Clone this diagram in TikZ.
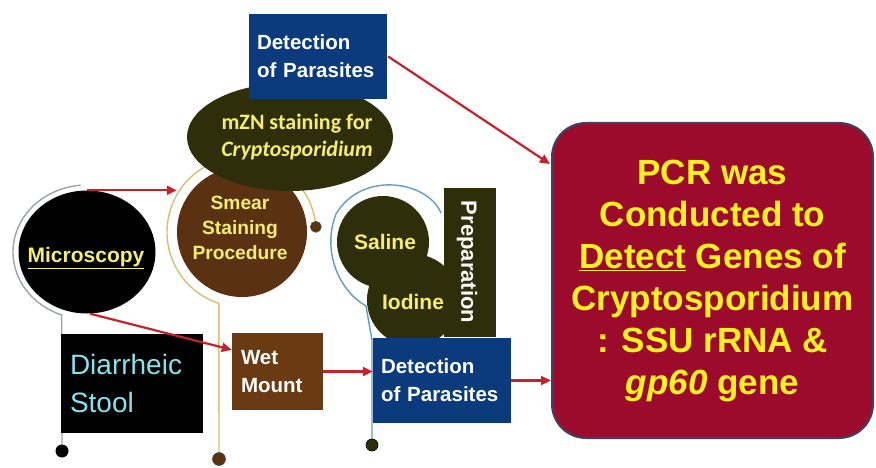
\documentclass[tikz,border=0pt]{standalone}
\usepackage{fontspec}
\setmainfont{Liberation Sans}
\newfontfamily\carlito{Carlito}
\usetikzlibrary{shapes.geometric,arrows.meta,calc}
\definecolor{detblue}{HTML}{0B3B7C}
\definecolor{olivefill}{HTML}{2F2E0B}
\definecolor{smearbrown}{HTML}{5B3211}
\definecolor{wetbrown}{HTML}{6A3A13}
\definecolor{pcrred}{HTML}{9C0B2C}
\definecolor{pcrborder}{HTML}{3B4363}
\definecolor{txtyellow}{HTML}{FFF21E}
\definecolor{lblyellow}{HTML}{F6EE6E}
\definecolor{stoolcyan}{HTML}{86E3EE}
\definecolor{arrowred}{HTML}{C4232B}
\definecolor{lineyellow}{HTML}{D9BE72}
\definecolor{lineblue}{HTML}{5E9CC4}
\definecolor{linegray}{HTML}{9DA3A8}
\begin{document}
\begin{tikzpicture}[x=1pt,y=-1pt,
  boxnode/.style={rectangle, inner sep=0pt, align=left},
  dettext/.style={text=white, font=\bfseries\fontsize{20.5}{28}\selectfont},
  roundfill/.style={circle, inner sep=0pt},
  lbl/.style={text=lblyellow, align=center, inner sep=0pt},
  redarrow/.style={draw=arrowred, line width=2.2pt, -{Triangle[length=10pt,width=9pt]}},
  thinline/.style={line width=1.4pt},
  enddot/.style={circle, inner sep=0pt, minimum size=13pt}
]
\fill[white] (0,0) rectangle (876,468);
\useasboundingbox (0,0) rectangle (876,468);

% --- thin guide lines behind the shapes ---
\coordinate (mc) at (87,252);
\draw[thinline, draw=linegray] ($(mc)+(95:74pt and 67pt)$)
  arc[start angle=95, end angle=250, x radius=74pt, y radius=67pt] -- (62,451) coordinate (mdotpos);
\node[enddot, fill=black] (mdot) at (mdotpos) {};

\coordinate (sc) at (242,232);
\draw[thinline, draw=lineyellow] ($(sc)+(115:75pt)$)
  arc[start angle=115, end angle=252, radius=75pt] -- (219,459) coordinate (sdotpos);
\node[enddot, fill=smearbrown, draw=black!70, line width=0.6pt] (sdot) at (sdotpos) {};
\draw[thinline, draw=lineyellow] ($(sc)+(40:74pt)$)
  arc[start angle=40, end angle=4, radius=74pt] coordinate (sdot2pos);
\node[enddot, minimum size=11pt, fill=smearbrown, draw=black!70, line width=0.6pt] (sdot2) at (sdot2pos) {};

\draw[thinline, draw=lineblue] (441,213) .. controls (428,181) and (362,170) .. (336,214)
  .. controls (322,250) and (338,290) .. (366,306) -- (372,340) -- (372,445) coordinate (bdotpos);
\node[enddot, minimum size=12pt, fill=olivefill, draw=black, line width=0.6pt] (bdot) at (bdotpos) {};

% --- smear staining ---
\node[roundfill, fill=smearbrown, minimum size=130pt] (smear) at (sc) {};
\node[lbl, font=\bfseries\fontsize{19.2}{25}\selectfont] (smeartext) at (240,228) {Smear\\Staining\\Procedure};

% --- mZN ellipse ---
\node[ellipse, fill=olivefill, minimum width=206pt, minimum height=108pt, inner sep=0pt] (mzn) at (290,137) {};
\node[lbl, font=\carlito\bfseries\fontsize{22}{27}\selectfont] (mzntext) at (297,137) {mZN staining for\\\itshape Cryptosporidium};

% --- top detection box ---
\node[boxnode, dettext, fill=detblue, minimum width=138pt, minimum height=85pt, text width=122pt] (det1) at (318,56.5) {Detection\\of Parasites};

% --- microscopy ---
\node[ellipse, fill=black, minimum width=137pt, minimum height=123pt, inner sep=0pt] (micro) at (mc) {};
\node[lbl, text=lblyellow, font=\bfseries\fontsize{21}{24}\selectfont] (microtext) at (86,258) {\underline{Microscopy}};

% --- diarrheic stool ---
\node[boxnode, fill=black, text=stoolcyan, font=\fontsize{28}{38}\selectfont, minimum width=142pt, minimum height=99pt, text width=124pt] (stool) at (132,383.5) {Diarrheic\\Stool};

% --- wet mount ---
\node[boxnode, fill=wetbrown, text=white, font=\bfseries\fontsize{20.5}{28}\selectfont, minimum width=91pt, minimum height=77pt, text width=73pt] (wet) at (277.5,371.5) {Wet\\Mount};

% --- saline / iodine / preparation ---
\node[boxnode, fill=olivefill, minimum width=52pt, minimum height=149pt] (prep) at (470,262.5) {};
\node[roundfill, fill=olivefill, minimum size=92pt] (saline) at (383,242) {};
\node[roundfill, fill=olivefill, minimum size=92pt] (iodine) at (413,300) {};
\node[lbl, font=\bfseries\fontsize{21}{25}\selectfont] (salinetext) at (385,242) {Saline};
\node[lbl, font=\bfseries\fontsize{21}{25}\selectfont] (iodinetext) at (413,302) {Iodine};
\node[text=white, inner sep=0pt, rotate=-90, font=\bfseries\fontsize{22}{26}\selectfont] (preptext) at (467,262) {Preparation};

% --- bottom detection box ---
\node[boxnode, dettext, fill=detblue, minimum width=138pt, minimum height=85pt, text width=122pt] (det2) at (442,380.5) {Detection\\of Parasites};

% --- PCR box ---
\node[rectangle, rounded corners=34pt, fill=pcrred, draw=pcrborder, line width=2pt,
  minimum width=321pt, minimum height=315pt, inner sep=0pt, align=center, text=txtyellow,
  font=\bfseries\fontsize{35}{42}\selectfont] (pcr) at (712.5,280.5)
  {PCR was\\Conducted to\\\underline{Detect} Genes of\\Cryptosporidium\\: SSU rRNA \&\\\textit{gp60} gene};

% --- arrows ---
\draw[redarrow] (micro.north) -- (micro.north -| smear.west);
\draw[redarrow] ($(micro.south)+(3,0)$) -- ($(wet.north west)!0.22!(wet.south west)$);
\draw[redarrow] (wet.east) -- (wet.east -| det2.west);
\draw[redarrow] ($(det1.east)+(1,0)$) -- ($(pcr.north west)+(-1,42)$);
\draw[redarrow] (det2.east) -- (det2.east -| pcr.west);
\end{tikzpicture}
\end{document}
